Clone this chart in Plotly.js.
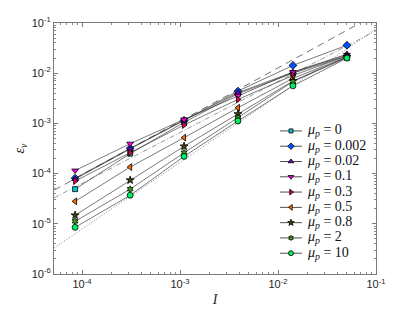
<!DOCTYPE html>
<html>
<head>
<meta charset="utf-8">
<script src="https://cdn.plot.ly/plotly-3.0.1.min.js"></script>
<style>html,body{margin:0;padding:0;background:#fff;}#chart{width:415px;height:312px;}</style>
</head>
<body>
<div id="chart"></div>
<script>
// Data
const I_vals = [8.5e-5, 3.1e-4, 1.1e-3, 3.9e-3, 1.42e-2, 5.05e-2];
const muLabels = ['0', '0.002', '0.02', '0.1', '0.3', '0.5', '0.8', '2', '10'];
const eps_mu0    = [4.9e-5, 2.5e-4, 1.05e-3, 3.9e-3, 1.0e-2, 2.2e-2];
const eps_mu0002 = [8.1e-5, 3.2e-4, 1.15e-3, 4.4e-3, 1.43e-2, 3.6e-2];
const eps_mu002  = [7.8e-5, 3.1e-4, 1.15e-3, 4.1e-3, 1.05e-2, 2.4e-2];
const eps_mu01   = [1.15e-4, 3.95e-4, 1.2e-3, 3.55e-3, 1.05e-2, 2.3e-2];
const eps_mu03   = [7.1e-5, 2.6e-4, 9.3e-4, 3.0e-3, 9.0e-3, 2.2e-2];
const eps_mu05   = [2.8e-5, 1.35e-4, 5.2e-4, 2.05e-3, 7.9e-3, 2.1e-2];
const eps_mu08   = [1.48e-5, 7.4e-5, 3.5e-4, 1.54e-3, 7.0e-3, 2.1e-2];
const eps_mu2    = [1.12e-5, 4.9e-5, 2.6e-4, 1.31e-3, 6.8e-3, 2.05e-2];
const eps_mu10   = [8.5e-6, 3.7e-5, 2.2e-4, 1.12e-3, 5.6e-3, 2.0e-2];
// reference slope lines (endpoints)
const refDashX = [5.2e-5, 6.9e-2];
const refDashY = [4.7e-5, 1.0e-1];
const refDashDotX = [5.2e-5, 1.0e-1];
const refDashDotY = [3.3e-5, 7.0e-2];
const refDotX = [5.2e-5, 1.0e-1];
const refDotY = [3.3e-6, 7.6e-2];
const xTickVals = [1e-4, 1e-3, 1e-2, 1e-1];
const xTickText = ['10<sup>-4</sup>', '10<sup>-3</sup>', '10<sup>-2</sup>', '10<sup>-1</sup>'];
const yTickVals = [1e-6, 1e-5, 1e-4, 1e-3, 1e-2, 1e-1];
const yTickText = ['10<sup>-6</sup>', '10<sup>-5</sup>', '10<sup>-4</sup>', '10<sup>-3</sup>', '10<sup>-2</sup>', '10<sup>-1</sup>'];

const seriesY = [eps_mu0, eps_mu0002, eps_mu002, eps_mu01, eps_mu03, eps_mu05, eps_mu08, eps_mu2, eps_mu10];
const symbols = ['square', 'diamond', 'triangle-up', 'triangle-down', 'triangle-right', 'triangle-left', 'star', 'hexagram', 'circle'];
const colors = ['#00c8d0', '#0050ff', '#7000d0', '#ff00e6', '#e8004c', '#ff6a00', '#404010', '#3c9a10', '#00ee66'];
const sizes = [5, 6, 6, 6, 6, 6, 6, 5, 6];

const names = muLabels.map(m => '<i>μ</i><sub><i>p</i></sub> = ' + m);

const traces = [];
traces.push({x: refDashX, y: refDashY, mode: 'lines', line: {color: '#333', width: 0.7, dash: '7px,5px'}, showlegend: false, hoverinfo: 'skip'});
traces.push({x: refDashDotX, y: refDashDotY, mode: 'lines', line: {color: '#555', width: 0.6, dash: '5px,2px,1px,2px'}, showlegend: false, hoverinfo: 'skip'});
traces.push({x: refDotX, y: refDotY, mode: 'lines', line: {color: '#444', width: 0.7, dash: '1px,2px'}, showlegend: false, hoverinfo: 'skip'});
seriesY.forEach((ys, i) => {
  traces.push({
    x: I_vals, y: ys, mode: 'lines+markers', name: names[i], showlegend: false,
    line: {color: '#222', width: 0.6},
    marker: {symbol: symbols[i], color: colors[i], size: sizes[i], line: {color: '#000', width: 0.8}}
  });
});

// Compact legend drawn on an overlay unit axis (MATLAB-like spacing)
const legX0 = 0.702, legX1 = 0.770, legXm = 0.736, legTextX = 0.778;
const legY0 = 0.570, legStep = 0.0609;
const annotations = [];
seriesY.forEach((ys, i) => {
  const yy = legY0 - i * legStep;
  traces.push({x: [legX0, legX1], y: [yy, yy], xaxis: 'x2', yaxis: 'y2', mode: 'lines',
    line: {color: '#222', width: 0.8}, showlegend: false, hoverinfo: 'skip'});
  traces.push({x: [legXm], y: [yy], xaxis: 'x2', yaxis: 'y2', mode: 'markers',
    marker: {symbol: symbols[i], color: colors[i], size: sizes[i] - 1, line: {color: '#000', width: 0.8}},
    showlegend: false, hoverinfo: 'skip'});
  annotations.push({x: legTextX, y: yy, xref: 'x2', yref: 'y2', text: names[i], showarrow: false,
    xanchor: 'left', yanchor: 'middle',
    font: {family: 'Liberation Serif, serif', size: 14, color: '#111'}});
});

const axisCommon = {
  type: 'log', showgrid: false, zeroline: false, showline: true, linecolor: '#7a7a7a', linewidth: 1,
  mirror: 'allticks', ticks: 'inside', ticklen: 4, tickcolor: '#7a7a7a', automargin: false,
  tickfont: {family: 'Liberation Sans, Arial, sans-serif', size: 11, color: '#262626'},
  minor: {ticks: 'inside', ticklen: 2, tickcolor: '#8a8a8a', dtick: 'D1', showgrid: false}
};

const layout = {
  width: 415, height: 312,
  margin: {l: 54, r: 39, t: 23, b: 38, autoexpand: false},
  paper_bgcolor: '#fff', plot_bgcolor: '#fff',
  xaxis: Object.assign({}, axisCommon, {
    range: [-4.286, -1], tickvals: xTickVals, ticktext: xTickText,
    title: {text: '<i>I</i>', font: {family: 'Liberation Serif, serif', size: 14, color: '#262626'}, standoff: 4}
  }),
  yaxis: Object.assign({}, axisCommon, {
    range: [-6, -1], tickvals: yTickVals, ticktext: yTickText,
    title: {text: '<i>ε</i><sub><i>v</i></sub>', font: {family: 'Liberation Serif, serif', size: 14, color: '#262626'}, standoff: 3}
  }),
  xaxis2: {overlaying: 'x', range: [0, 1], visible: false, fixedrange: true},
  yaxis2: {overlaying: 'y', range: [0, 1], visible: false, fixedrange: true},
  annotations: annotations,
  showlegend: false
};

Plotly.newPlot('chart', traces, layout, {displayModeBar: false, staticPlot: true});
</script>
</body>
</html>
